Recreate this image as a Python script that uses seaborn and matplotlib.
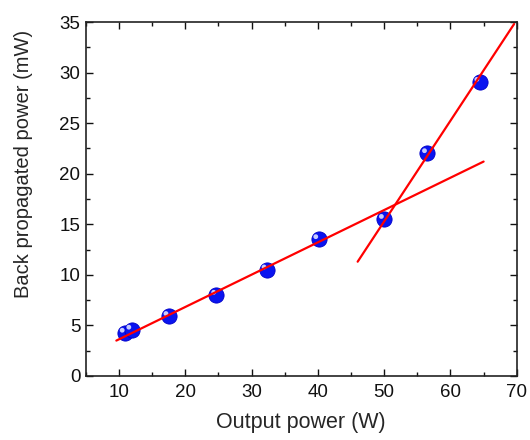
import matplotlib
matplotlib.use("Agg")
import matplotlib.pyplot as plt
import matplotlib.transforms as mtransforms
from matplotlib.ticker import MultipleLocator
import seaborn as sns
import pandas as pd

sns.set_theme(style="ticks")
plt.rcParams['font.family'] = ['Liberation Sans', 'DejaVu Sans']

# measured data
output_power = [10.9, 11.9, 17.5, 24.7, 32.3, 40.1, 50.0, 56.5, 64.4]
back_power = [4.25, 4.55, 5.9, 8.0, 10.5, 13.5, 15.5, 22.0, 29.05]

# linear fits (endpoints)
fit1_x = [9.6, 65.0]
fit1_y = [3.5, 21.2]
fit2_x = [46.0, 69.6]
fit2_y = [11.3, 34.8]

df = pd.DataFrame({"x": output_power, "y": back_power})
f1 = pd.DataFrame({"x": fit1_x, "y": fit1_y})
f2 = pd.DataFrame({"x": fit2_x, "y": fit2_y})

fig = plt.figure(figsize=(5.3, 4.4), dpi=100)
ax = fig.add_axes([0.162, 0.1455, 0.813, 0.8045])

sns.scatterplot(data=df, x="x", y="y", ax=ax, s=120, color="#0a14f0",
                edgecolor="#0000c8", linewidth=0.6, zorder=2, legend=False)
# specular highlight on markers
hl_offset = mtransforms.offset_copy(ax.transData, fig=fig, x=-2.0, y=2.0, units='points')
ax.scatter(df["x"], df["y"], s=12, color="#c8ccff", edgecolor="none",
           transform=hl_offset, zorder=3)

sns.lineplot(data=f1, x="x", y="y", ax=ax, color="#ff0000", linewidth=1.6, zorder=4)
sns.lineplot(data=f2, x="x", y="y", ax=ax, color="#ff0000", linewidth=1.6, zorder=4)

ax.set_xlim(5, 70)
ax.set_ylim(0, 35)
ax.xaxis.set_major_locator(MultipleLocator(10))
ax.xaxis.set_minor_locator(MultipleLocator(5))
ax.yaxis.set_major_locator(MultipleLocator(5))
ax.yaxis.set_minor_locator(MultipleLocator(2.5))
ax.tick_params(which='both', direction='in', top=True, right=True,
               labelsize=13.5, colors='#111111', width=1.0)
ax.tick_params(which='major', length=5)
ax.tick_params(which='minor', length=3)
ax.tick_params(axis='x', pad=6)
ax.tick_params(axis='y', pad=4)
for sp in ax.spines.values():
    sp.set_visible(True)
    sp.set_linewidth(1.2)
    sp.set_color('#222222')

ax.set_xlabel("Output power (W)", fontsize=15.5)
ax.set_ylabel("Back propagated power (mW)", fontsize=14.5)
ax.xaxis.set_label_coords(0.5, -0.102)
ax.yaxis.set_label_coords(-0.123, 0.60)

fig.savefig("out.png", dpi=100)
